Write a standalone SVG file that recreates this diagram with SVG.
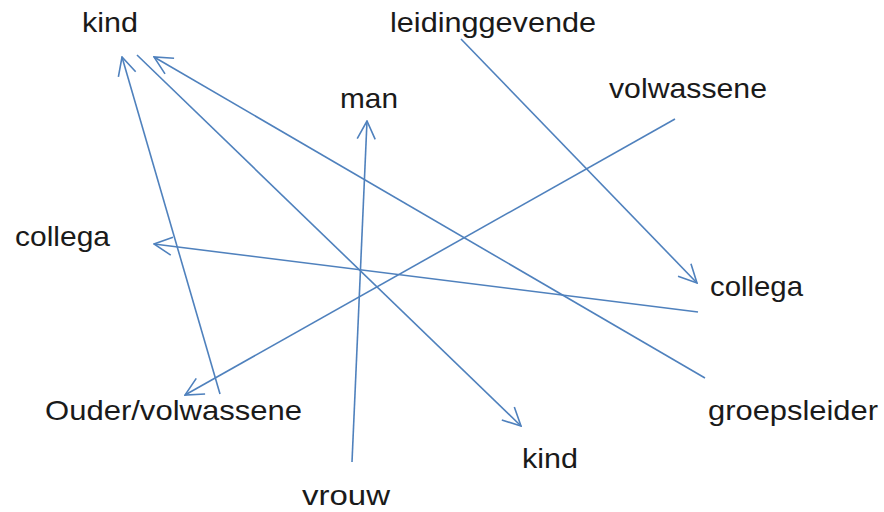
<svg xmlns="http://www.w3.org/2000/svg" width="884" height="512" viewBox="0 0 884 512">
<defs>
<marker id="ah" viewBox="0 0 20 20" refX="19" refY="10" markerWidth="20" markerHeight="20" markerUnits="userSpaceOnUse" orient="auto">
<path d="M1,1 L19,10 L1,19" fill="none" stroke="#4f81bd" stroke-width="1.6"/>
</marker>
<style>
text{font-family:"Liberation Sans",Arial,sans-serif;font-size:28px;fill:#1a1a1a}
.c{stroke:#4f81bd;stroke-width:1.6;fill:none;marker-end:url(#ah)}
.n{stroke:#4f81bd;stroke-width:1.6;fill:none}
</style>
</defs>
<rect width="884" height="512" fill="#fff"/>
<g id="n-kind1"><text x="82" y="32" textLength="56" lengthAdjust="spacingAndGlyphs">kind</text></g>
<g id="n-leidinggevende"><text x="390" y="32" textLength="206" lengthAdjust="spacingAndGlyphs">leidinggevende</text></g>
<g id="n-volwassene"><text x="609" y="98" textLength="158" lengthAdjust="spacingAndGlyphs">volwassene</text></g>
<g id="n-man"><text x="340" y="108" textLength="58" lengthAdjust="spacingAndGlyphs">man</text></g>
<g id="n-collega1"><text x="15" y="246" textLength="95" lengthAdjust="spacingAndGlyphs">collega</text></g>
<g id="n-collega2"><text x="710" y="296" textLength="93" lengthAdjust="spacingAndGlyphs">collega</text></g>
<g id="n-ouder"><text x="45" y="420" textLength="257" lengthAdjust="spacingAndGlyphs">Ouder/volwassene</text></g>
<g id="n-groepsleider"><text x="708" y="420" textLength="170" lengthAdjust="spacingAndGlyphs">groepsleider</text></g>
<g id="n-kind2"><text x="522" y="468" textLength="56" lengthAdjust="spacingAndGlyphs">kind</text></g>
<g id="n-vrouw"><text x="302" y="505" textLength="88" lengthAdjust="spacingAndGlyphs">vrouw</text></g>
<g id="connectors">
<line class="c" x1="220" y1="394" x2="122" y2="57"/>
<line class="c" x1="137" y1="55" x2="521" y2="426"/>
<line class="c" x1="705" y1="378" x2="154" y2="57"/>
<line class="c" x1="461" y1="39" x2="697" y2="283"/>
<line class="c" x1="675" y1="119" x2="185" y2="395"/>
<line class="c" x1="698" y1="312" x2="154" y2="244"/>
<line class="c" x1="352" y1="462" x2="367" y2="121"/>
</g>
</svg>
